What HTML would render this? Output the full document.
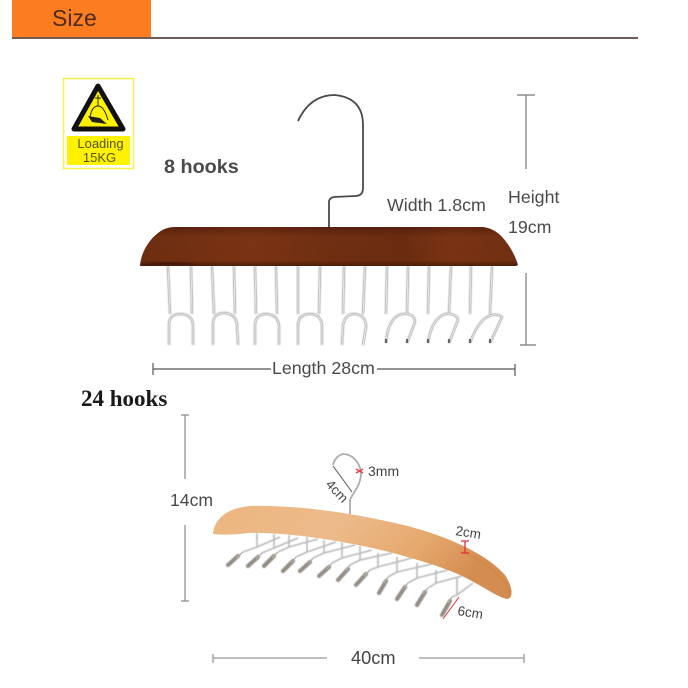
<!DOCTYPE html>
<html>
<head>
<meta charset="utf-8">
<style>
html,body{margin:0;padding:0;background:#fff;width:688px;height:688px;overflow:hidden}
svg{display:block}
text{font-family:"Liberation Sans",sans-serif;fill:#444}
</style>
</head>
<body>
<svg width="688" height="688" viewBox="0 0 688 688" xmlns="http://www.w3.org/2000/svg">
<defs>
<linearGradient id="dark" x1="0" y1="0" x2="0" y2="1">
<stop offset="0" stop-color="#5e2410"/><stop offset=".25" stop-color="#7a3414"/><stop offset=".85" stop-color="#7a3312"/><stop offset="1" stop-color="#4f1f0c"/>
</linearGradient>
<linearGradient id="darkH" x1="0" y1="0" x2="1" y2="0">
<stop offset="0" stop-color="#3a1408" stop-opacity=".2"/><stop offset=".3" stop-color="#3a1408" stop-opacity="0"/><stop offset=".52" stop-color="#3a1408" stop-opacity=".18"/><stop offset=".7" stop-color="#3a1408" stop-opacity=".25"/><stop offset=".82" stop-color="#3a1408" stop-opacity="0"/><stop offset="1" stop-color="#3a1408" stop-opacity=".15"/>
</linearGradient>
<linearGradient id="light" x1="0" y1="0" x2="1" y2="0.3">
<stop offset="0" stop-color="#edb680"/><stop offset=".45" stop-color="#ecba8a"/><stop offset=".75" stop-color="#e6a96e"/><stop offset="1" stop-color="#d48c50"/>
</linearGradient>
<filter id="soft" x="-5%" y="-5%" width="110%" height="110%"><feGaussianBlur stdDeviation=".4"/></filter>
<g id="wires" fill="none">
<path d="M168 266L170 314M191 266L192 314"/>
<path d="M212 266L214 314M234 266L235 314"/>
<path d="M255 266L256 314M276 266L277 314"/>
<path d="M298 266L298 314M320 266L319 314"/>
<path d="M344 266L343 314M365 266L363 314"/>
<path d="M387 266L386 314M408 266L407 314"/>
<path d="M429 266L428 314M451 266L449 314"/>
<path d="M471 266L470 314M492 266L490 314"/>
<path d="M169 345V325C169 318 173 314 180 314C188 314 193 318 193 326V345"/>
<path d="M213 345V324C213 317 217 313 224 313C232 313 237 318 237 326L238 345"/>
<path d="M255 345V326C255 318 259 314 266 314C274 314 279 319 279 327V345"/>
<path d="M298 345V326C298 318 302 314 310 314C318 314 322 319 322 327V345"/>
<path d="M342 345L343 326C344 318 348 314 354 314C362 314 366 319 366 327L363 345"/>
<path d="M386 343C387 328 392 316 402 314C410 313 415 316 415 322L407 343"/>
<path d="M428 343C430 328 436 317 445 314C452 313 458 316 458 320L449 343"/>
<path d="M470 343C476 326 483 317 492 315C496 314 500 315 502 317L490 343"/>
</g>
</defs>

<!-- Header -->
<rect x="12" y="0" width="139" height="37" fill="#fb7d20"/>
<rect x="12" y="37" width="626" height="2" fill="#6f5c58"/>
<text x="52" y="26" font-size="23" style="fill:#4d2a18">Size</text>

<!-- Warning sign -->
<rect x="63.500" y="78.500" width="70" height="90" fill="#fff" stroke="#fbf04a" stroke-width="1.500"/>
<path d="M98 86 L123 129 L74 129 Z" fill="#fff200" stroke="#111" stroke-width="5" stroke-linejoin="round"/>
<path d="M98 95V106M95 98H101" stroke="#222" stroke-width="1" fill="none"/>
<path d="M90 117Q92 106 98 106Q104 106 108 120" stroke="#222" stroke-width="1" fill="none"/>
<path d="M88 116L100 118L107 124L92 122Z" fill="#222"/>
<rect x="67" y="136" width="63" height="29" fill="#fff200"/>
<text x="100.500" y="148" font-size="13" text-anchor="middle" style="fill:#55551a">Loading</text>
<text x="99.500" y="162" font-size="13" text-anchor="middle" style="fill:#55551a">15KG</text>

<text x="164" y="173" font-size="19.800" font-weight="bold" style="fill:#4a4a4a">8 hooks</text>
<text x="387" y="211" font-size="17.800" style="fill:#4a4a4a">Width 1.8cm</text>
<text x="508" y="203" font-size="17.800" style="fill:#4a4a4a">Height</text>
<text x="508" y="233" font-size="17.800" style="fill:#4a4a4a">19cm</text>

<!-- Height markers -->
<path d="M517 95H535M526 95V169" stroke="#777" stroke-width="1.200" fill="none"/>
<path d="M526 273V345M520 345H536" stroke="#777" stroke-width="1.200" fill="none"/>

<!-- Top hanger hook -->
<path d="M329 228V202Q329 198 334 197L355 196Q363 196 363 188V125Q363 98 335 95Q310 95 298 121" fill="none" stroke="#4a4a4a" stroke-width="1.800"/>

<!-- Chrome hooks for 8-hook hanger -->
<use href="#wires" stroke="#a9a9ad" stroke-width="2.400" filter="url(#soft)"/>
<use href="#wires" stroke="#f2f2f2" stroke-width=".8"/>
<g stroke="#666" stroke-width="2.200">
<path d="M386 339V343M407 339V343M428 339V343M449 339V343M470 339V343M490 339V343"/>
</g>

<!-- Dark wooden bar -->
<path d="M140 266C141 252 149 240 158 233C163 229 168 227 176 227H483C492 228 500 233 507 243C512 250 516 258 518 265L516 266H142Z" fill="url(#dark)"/>
<path d="M140 266C141 252 149 240 158 233C163 229 168 227 176 227H483C492 228 500 233 507 243C512 250 516 258 518 265L516 266H142Z" fill="url(#darkH)"/>
<path d="M142 265Q160 259 205 265Z" fill="#40180a" opacity=".7" filter="url(#soft)"/>

<!-- Length -->
<path d="M153 363V375M153 369H271M377 369H515M515 364V376" stroke="#555" stroke-width="1.200" fill="none"/>
<text x="272" y="374" font-size="17.800" style="fill:#4a4a4a">Length 28cm</text>

<text x="81" y="406" font-size="23" font-weight="bold" style="font-family:'Liberation Serif',serif;fill:#1a1a1a">24 hooks</text>

<!-- 14cm marker -->
<path d="M181 415H189M185 415V479M185 525V601M181 601H189" stroke="#888" stroke-width="1.200" fill="none"/>
<text x="170" y="506" font-size="17.600" style="fill:#4a4a4a">14cm</text>

<!-- 24-hook stems -->
<g fill="none" stroke="#b9b9bd" stroke-width="1.600" filter="url(#soft)">
<path d="M257 533V547L243 552M274 534V548L262 553M289 535V547L278 552M307 537V552L296 557M324 540V553L313 558M342 542V558L332 563M360 546V560L350 565M378 553V567L370 570M397 557V572L388 577M417 563V578L408 583M436 570V583L428 588M457 577V595L452 597"/>
<path d="M257 547L280 537M274 548L298 538M289 547L318 539M307 552L336 542M324 553L355 545M342 558L372 550M360 560L392 553M378 567L412 558M397 572L432 564M417 578L448 570M436 583L462 576M457 595L473 583"/>
</g>
<!-- tips -->
<g fill="none" stroke="#948e86" stroke-width="4.200" stroke-linecap="round" filter="url(#soft)">
<path d="M228 565L238 556"/>
<path d="M248 566L258 557"/>
<path d="M264 566L274 556"/>
<path d="M283 571L293 561"/>
<path d="M300 571L310 562"/>
<path d="M319 576L329 567"/>
<path d="M338 580L348 569"/>
<path d="M356 585L366 574"/>
<path d="M379 593L386 581"/>
<path d="M397 599L405 587"/>
<path d="M417 605L425 592"/>
<path d="M442 615L450 601"/>
</g>
<g fill="none" stroke="#b0aca6" stroke-width="1.300">
<path d="M236 558L243 552M256 559L262 553M272 558L278 552M291 563L296 557M308 564L313 558M327 569L332 563M346 571L350 565M364 576L370 570M384 583L388 577M403 589L408 583M423 594L428 588M448 603L452 597"/>
</g>

<!-- Light wooden bar -->
<path d="M213 534C214 520 226 508 250 506C300 505 350 513 395 523C440 533 485 552 505 575C512 586 514 596 508 599C498 598 485 587 460 575C440 566 415 559 393 553C350 542 290 532 248 533C235 535 222 535 213 534Z" fill="url(#light)"/>
<path d="M462 551C482 560 498 572 506 584C509 590 510 594 510 597" fill="none" stroke="#c9803f" stroke-width="2" opacity=".45" filter="url(#soft)"/>

<!-- Small hook -->
<path d="M350 514V500C352 494 361 486 361 473C360 462 352 454 343 454C338 455 334 460 333 465" fill="none" stroke="#aeaeb0" stroke-width="1.800"/>
<path d="M333 466L352 492" stroke="#555" stroke-width="1" fill="none"/>
<path d="M356 469L363 473M356 473L363 469" stroke="#e8404a" stroke-width="1.400"/>
<text x="368" y="476" font-size="14" style="fill:#444">3mm</text>
<text transform="translate(325 485) rotate(47)" font-size="13.500" style="fill:#444">4cm</text>

<!-- 2cm -->
<path d="M461 541H469M465 541V553M461 553H469" stroke="#e0303a" stroke-width="1.300" fill="none"/>
<text transform="translate(455 535) rotate(9)" font-size="13.500" style="fill:#444">2cm</text>

<!-- 6cm -->
<path d="M443 619L459 597" stroke="#e0303a" stroke-width="1"/>
<text transform="translate(457 615) rotate(9)" font-size="13.500" style="fill:#444">6cm</text>

<!-- 40cm -->
<path d="M213 654V663M213 658H327M419 658H524M524 654V663" stroke="#999" stroke-width="1.300" fill="none"/>
<text x="351" y="664" font-size="18.200" style="fill:#444">40cm</text>
</svg>
</body>
</html>
